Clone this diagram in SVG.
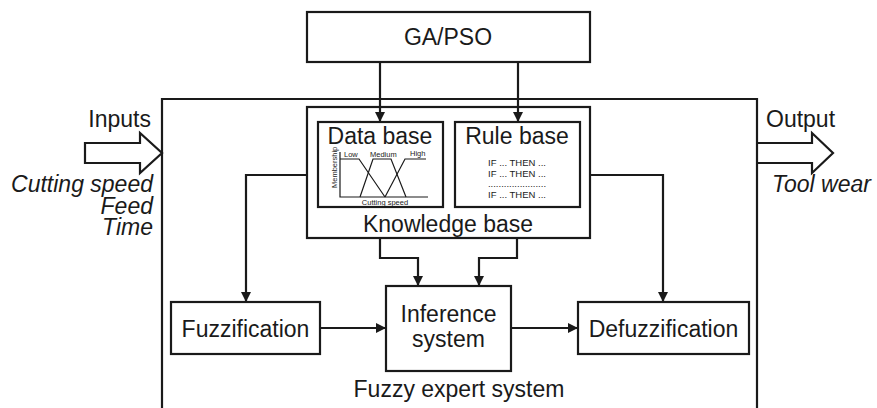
<svg xmlns="http://www.w3.org/2000/svg" width="877" height="408" viewBox="0 0 877 408">
<style>
  .box{fill:#fff;stroke:#1a1a1a;stroke-width:2.2}
  .ln{fill:none;stroke:#1a1a1a;stroke-width:2.2}
  .thin{fill:none;stroke:#1a1a1a;stroke-width:1.2}
  .t{font-family:"Liberation Sans",Arial,sans-serif;font-size:23px;fill:#1a1a1a}
  .i{font-style:italic}
  .s{font-family:"Liberation Sans",Arial,sans-serif;fill:#1a1a1a}
</style>
<defs>
  <marker id="ah" viewBox="0 0 10 10" refX="10" refY="5" markerWidth="10" markerHeight="10" markerUnits="userSpaceOnUse" orient="auto">
    <path d="M0,0 L10,5 L0,10 Z" fill="#1a1a1a"/>
  </marker>
</defs>
<rect width="877" height="408" fill="#fff"/>

<g id="fuzzy-expert-system">
  <path class="ln" d="M162,408 V99 H757 V408"/>
  <text class="t" x="459" y="397" text-anchor="middle">Fuzzy expert system</text>
</g>

<g id="ga-pso">
  <rect class="box" x="307" y="12" width="283" height="50"/>
  <text class="t" x="448" y="45" text-anchor="middle">GA/PSO</text>
</g>

<g id="knowledge-base">
  <rect class="box" x="307" y="107" width="283" height="131"/>
  <text class="t" x="448" y="232" text-anchor="middle">Knowledge base</text>
</g>

<g id="data-base">
  <rect class="box" x="318" y="122" width="125" height="85"/>
  <text class="t" x="380" y="144" text-anchor="middle">Data base</text>
  <path class="thin" d="M340,152 V197 H428"/>
  <path class="thin" d="M340,159 H359 L385,197"/>
  <path class="thin" d="M360,197 L373,159 H391 L406,197"/>
  <path class="thin" d="M385,197 L405,159 H426"/>
  <text class="s" font-size="7.5" transform="translate(337,188) rotate(-90)">Membership</text>
  <text class="s" font-size="7.5" x="344" y="157">Low</text>
  <text class="s" font-size="7.5" x="370" y="157">Medium</text>
  <text class="s" font-size="7.5" x="410" y="156">High</text>
  <text class="s" font-size="7.5" x="385" y="205" text-anchor="middle">Cutting speed</text>
</g>

<g id="rule-base">
  <rect class="box" x="455" y="122" width="125" height="85"/>
  <text class="t" x="517" y="144" text-anchor="middle">Rule base</text>
  <text class="s" font-size="9.5" x="517" y="166" text-anchor="middle">IF ... THEN ...</text>
  <text class="s" font-size="9.5" x="517" y="177" text-anchor="middle">IF ... THEN ...</text>
  <text class="s" font-size="9.5" x="517" y="187" text-anchor="middle">......................</text>
  <text class="s" font-size="9.5" x="517" y="198" text-anchor="middle">IF ... THEN ...</text>
</g>

<g id="fuzzification">
  <rect class="box" x="171" y="302" width="149" height="52"/>
  <text class="t" x="245.5" y="337" text-anchor="middle">Fuzzification</text>
</g>

<g id="inference-system">
  <rect class="box" x="386" y="286" width="125" height="85"/>
  <text class="t" x="448.5" y="322" text-anchor="middle">Inference</text>
  <text class="t" x="448.5" y="347" text-anchor="middle">system</text>
</g>

<g id="defuzzification">
  <rect class="box" x="578" y="302" width="171" height="52"/>
  <text class="t" x="663.5" y="337" text-anchor="middle">Defuzzification</text>
</g>

<g id="inputs">
  <path class="ln" d="M85,143 H140 V133 L162,153 L140,173 V163 H85 Z"/>
  <text class="t" x="151" y="127" text-anchor="end">Inputs</text>
  <text class="t i" x="153" y="192" text-anchor="end">Cutting speed</text>
  <text class="t i" x="153" y="214" text-anchor="end">Feed</text>
  <text class="t i" x="153" y="235" text-anchor="end">Time</text>
</g>

<g id="output">
  <path class="ln" d="M757,143 H812 V133 L833,153 L812,173 V163 H757"/>
  <text class="t" x="766" y="127">Output</text>
  <text class="t i" x="772" y="192">Tool wear</text>
</g>

<g id="connectors">
  <path class="ln" d="M380,62 V122" marker-end="url(#ah)"/>
  <path class="ln" d="M518,62 V122" marker-end="url(#ah)"/>
  <path class="ln" d="M307,175 H246 V302" marker-end="url(#ah)"/>
  <path class="ln" d="M590,175 H663 V302" marker-end="url(#ah)"/>
  <path class="ln" d="M380,238 V258 H418 V286" marker-end="url(#ah)"/>
  <path class="ln" d="M517,238 V258 H479 V286" marker-end="url(#ah)"/>
  <path class="ln" d="M320,328 H386" marker-end="url(#ah)"/>
  <path class="ln" d="M511,328 H578" marker-end="url(#ah)"/>
</g>
</svg>
